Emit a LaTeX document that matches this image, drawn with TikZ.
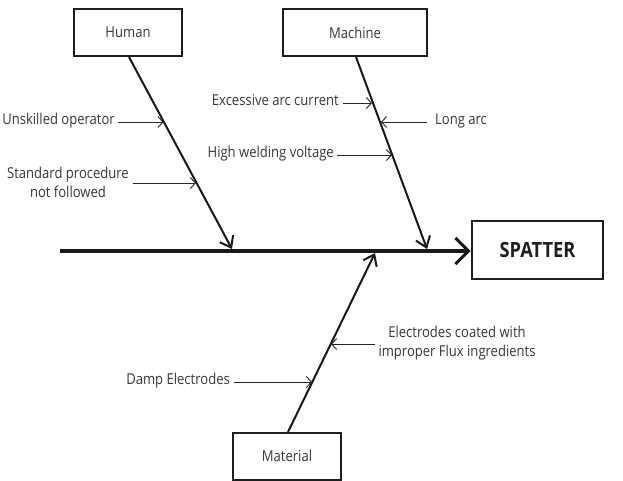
\documentclass[tikz,border=0pt]{standalone}
\usepackage{fontspec}
\setmainfont{Open Sans}[FakeStretch=0.87]
\usetikzlibrary{arrows.meta,calc}
\begin{document}
\begin{tikzpicture}[x=1pt,y=-1pt,
  every node/.style={font=\fontsize{15}{19}\selectfont, text=black!78},
  catbox/.style={draw=black!88, line width=2pt, minimum width=108pt, minimum height=47pt, inner sep=0pt},
  effbox/.style={draw=black!88, line width=2.8pt, minimum width=131pt, minimum height=58pt, inner sep=0pt, font=\fontsize{21}{24}\selectfont\bfseries, text=black!88},
  spine/.style={draw=black!90, line width=3.5pt, -{Straight Barb[length=13pt,width=26pt,line width=3pt]}},
  bone/.style={draw=black!90, line width=2pt, -{Straight Barb[length=10pt,width=15pt,line width=2pt]}},
  cause/.style={draw=black!85, line width=0.9pt, -{Straight Barb[length=5pt,width=11pt,line width=0.9pt]}},
  lbl/.style={inner sep=0pt, align=center}]
\useasboundingbox (0,0) rectangle (623,480);
% boxes
\node[catbox] (human) at (128,32.5) {Human};
\node[catbox, minimum width=144pt] (machine) at (355,32.5) {Machine};
\node[catbox, minimum width=108pt] (material) at (287,456) {Material};
\node[effbox] (spatter) at (537.5,250) {SPATTER};
% spine
\coordinate (tail) at (60,251);
\draw[spine] (tail) -- (spatter.west |- tail);
% bone endpoints
\coordinate (hs) at (129,57);
\coordinate (he) at (232,249);
\coordinate (ms) at (356,57);
\coordinate (me) at (427,249);
\coordinate (ts) at (288,432);
\coordinate (te) at (375,253);
\draw[bone] (hs) -- (he);
\draw[bone] (ms) -- (me);
\draw[bone] (ts) -- (te);
% cause labels
\node[lbl, anchor=mid east] (c1) at (115,122) {Unskilled operator};
\node[lbl] (c2) at (68,182) {Standard procedure\\not followed};
\node[lbl, anchor=mid east] (c3) at (339,103) {Excessive arc current};
\node[lbl, anchor=mid west] (c4) at (435,122) {Long arc};
\node[lbl, anchor=mid east] (c5) at (334,155) {High welding voltage};
\node[lbl, anchor=mid east] (c6) at (230,382) {Damp Electrodes};
\node[lbl] (c7) at (457,343) {Electrodes coated with\\improper Flux ingredients};
% cause arrows
\coordinate (p1) at (163.5,122);
\coordinate (p2) at (196,183);
\coordinate (p3) at (372,103);
\coordinate (p4) at (381,122);
\coordinate (p5) at (392,155);
\coordinate (p6) at (312,382);
\coordinate (p7) at (331,344);
\draw[cause] ([xshift=3pt]c1.mid east) -- (p1);
\draw[cause] (133,183) -- (p2);
\draw[cause] ([xshift=4pt]c3.mid east) -- (p3);
\draw[cause] ([xshift=-8pt]c4.mid west) -- (p4);
\draw[cause] ([xshift=3pt]c5.mid east) -- (p5);
\draw[cause] ([xshift=4pt]c6.mid east) -- (p6);
\draw[cause] (375,344) -- (p7);
\end{tikzpicture}
\end{document}
